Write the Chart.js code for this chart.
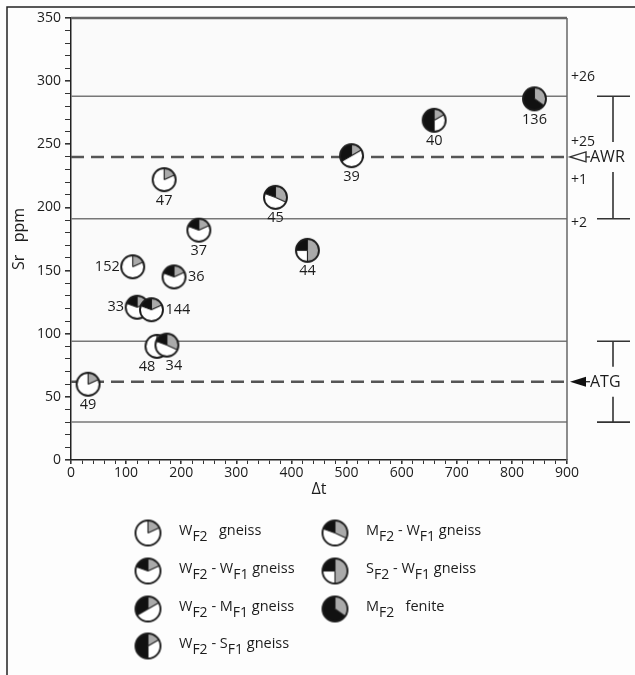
<!DOCTYPE html>
<html>
<head>
<meta charset="utf-8">
<script src="https://cdn.jsdelivr.net/npm/chart.js@4.4.0/dist/chart.umd.min.js"></script>
<style>
  html, body { margin: 0; padding: 0; background: #fff; }
  #wrap { position: relative; width: 635px; height: 675px; }
</style>
</head>
<body>
<div id="wrap"><canvas id="c" width="635" height="675"></canvas></div>
<script>
// ===== Data =====
const sampleIds = ['49', '48', '34', '33', '144', '152', '36', '37', '47', '45', '44', '39', '40', '136'];
const deltaT    = [31, 156, 174, 120, 146, 112, 187, 232, 169, 371, 429, 509, 659, 841];
const srPpm     = [60, 90, 91, 121, 119, 153, 145, 182, 222, 208, 166, 241, 269, 286];
const rockType  = ['wg', 'wg', 'mw', 'ww', 'ww', 'wg', 'ww', 'ww', 'wg', 'mw', 'sw', 'wm', 'ws', 'mf'];

const solidLevels  = [288, 191, 94, 30];
const dashedLevels = [240, 62];
const markerNames  = ['AWR', 'ATG'];
const markerLevels = [240, 62];
const rangeHigh    = [288, 94];
const rangeLow     = [191, 30];
const offsetLabels = ['+26', '+25', '+1', '+2'];
const offsetLevels = [303, 252, 222, 188];

const legendKeys = ['wg', 'ww', 'wm', 'ws', 'mw', 'sw', 'mf'];
const legendLabels = [
  [['W', 0], ['F2', 1], ['   gneiss', 0]],
  [['W', 0], ['F2', 1], [' - W', 0], ['F1', 1], [' gneiss', 0]],
  [['W', 0], ['F2', 1], [' - M', 0], ['F1', 1], [' gneiss', 0]],
  [['W', 0], ['F2', 1], [' - S', 0], ['F1', 1], [' gneiss', 0]],
  [['M', 0], ['F2', 1], [' - W', 0], ['F1', 1], [' gneiss', 0]],
  [['S', 0], ['F2', 1], [' - W', 0], ['F1', 1], [' gneiss', 0]],
  [['M', 0], ['F2', 1], ['   fenite', 0]]
];

// ===== Styles =====
const FONT = '"Open Sans", "DejaVu Sans", sans-serif';
const INK = '#1c1c1c';
const FILL = { w: '#ffffff', g: '#aaaaaa', k: '#111111' };
// sectors: [startDeg, endDeg, fill], clockwise from 12 o'clock
const PIE = {
  wg: [[0, 65, 'g'], [65, 360, 'w']],
  ww: [[0, 65, 'g'], [65, 290, 'w'], [290, 360, 'k']],
  wm: [[0, 60, 'g'], [60, 240, 'w'], [240, 360, 'k']],
  ws: [[0, 60, 'g'], [60, 180, 'w'], [180, 360, 'k']],
  mw: [[0, 115, 'g'], [115, 290, 'w'], [290, 360, 'k']],
  sw: [[0, 180, 'g'], [180, 270, 'w'], [270, 360, 'k']],
  mf: [[0, 125, 'g'], [125, 360, 'k']]
};
// where each sample number sits: b = below, l = left, r = right; plus a small x nudge
const labelPlace = ['b', 'b', 'b', 'l', 'r', 'l', 'r', 'b', 'b', 'b', 'b', 'b', 'b', 'b'];
const labelNudge = [0, -10, 7, 0, 0, 0, 0, 0, 0, 0, 0, 0, 0, 0];

function makePie(key, r) {
  const c = document.createElement('canvas');
  const s = Math.ceil(r * 2 + 4);
  c.width = c.height = s;
  const g = c.getContext('2d');
  const cx = s / 2, cy = s / 2;
  const rad = d => (d - 90) * Math.PI / 180;
  PIE[key].forEach(([a0, a1, col]) => {
    g.beginPath();
    g.moveTo(cx, cy);
    g.arc(cx, cy, r, rad(a0), rad(a1));
    g.closePath();
    g.fillStyle = FILL[col];
    g.fill();
  });
  g.strokeStyle = INK;
  g.lineWidth = 1.1;
  PIE[key].forEach(([a0]) => {
    g.beginPath();
    g.moveTo(cx, cy);
    g.lineTo(cx + r * Math.cos(rad(a0)), cy + r * Math.sin(rad(a0)));
    g.stroke();
  });
  g.beginPath();
  g.arc(cx, cy, r, 0, Math.PI * 2);
  g.lineWidth = 1.9;
  g.stroke();
  return c;
}

const pointIcons = {}, legendIcons = {};
Object.keys(PIE).forEach(k => {
  pointIcons[k] = makePie(k, 11.5);
  legendIcons[k] = makePie(k, 12.5);
});

// ===== Plugins =====
const framePlugin = {
  id: 'frame',
  beforeDraw(chart) {
    const { ctx, chartArea: a } = chart;
    ctx.save();
    ctx.fillStyle = '#fdfdfd';
    ctx.fillRect(0, 0, chart.width, chart.height);
    ctx.fillStyle = '#fafafa';
    ctx.fillRect(a.left, a.top, a.right - a.left, a.bottom - a.top);
    ctx.restore();
  },
  afterDraw(chart) {
    const { ctx, chartArea: a } = chart;
    ctx.save();
    ctx.strokeStyle = '#222';
    ctx.lineWidth = 1.5;
    ctx.beginPath();
    ctx.moveTo(7, 675); ctx.lineTo(7, 7); ctx.lineTo(635, 7);
    ctx.stroke();
    ctx.strokeStyle = '#666';
    ctx.lineWidth = 2.5;
    ctx.beginPath();
    ctx.moveTo(a.left, a.top); ctx.lineTo(a.right, a.top);
    ctx.stroke();
    ctx.lineWidth = 1.5;
    ctx.beginPath();
    ctx.moveTo(a.right, a.top); ctx.lineTo(a.right, a.bottom);
    ctx.stroke();
    ctx.restore();
  }
};

const sampleLabels = {
  id: 'sampleLabels',
  afterDatasetsDraw(chart) {
    const { ctx } = chart;
    const meta = chart.getDatasetMeta(0);
    ctx.save();
    ctx.font = '14.5px ' + FONT;
    ctx.fillStyle = INK;
    ctx.textBaseline = 'middle';
    meta.data.forEach((pt, i) => {
      const p = labelPlace[i], dx = labelNudge[i];
      if (p === 'b') { ctx.textAlign = 'center'; ctx.fillText(sampleIds[i], pt.x + dx, pt.y + 21); }
      else if (p === 'l') { ctx.textAlign = 'right'; ctx.fillText(sampleIds[i], pt.x - 13 + dx, pt.y); }
      else { ctx.textAlign = 'left'; ctx.fillText(sampleIds[i], pt.x + 14 + dx, pt.y); }
    });
    ctx.restore();
  }
};

const sideNotes = {
  id: 'sideNotes',
  afterDraw(chart) {
    const { ctx, chartArea: a } = chart;
    const y = chart.scales.y;
    ctx.save();
    ctx.fillStyle = INK;
    ctx.font = '14px ' + FONT;
    ctx.textBaseline = 'middle';
    ctx.textAlign = 'left';
    offsetLabels.forEach((t, i) => ctx.fillText(t, a.right + 4, y.getPixelForValue(offsetLevels[i])));

    const barX = a.right + 46;
    markerNames.forEach((name, i) => {
      const my = y.getPixelForValue(markerLevels[i]);
      const top = y.getPixelForValue(rangeHigh[i]);
      const bot = y.getPixelForValue(rangeLow[i]);
      // range bar with a gap for the label
      ctx.strokeStyle = '#333';
      ctx.lineWidth = 1.6;
      ctx.beginPath();
      ctx.moveTo(barX - 16, top); ctx.lineTo(barX + 17, top);
      ctx.moveTo(barX, top); ctx.lineTo(barX, my - 15);
      ctx.moveTo(barX, my + 15); ctx.lineTo(barX, bot);
      ctx.moveTo(barX - 16, bot); ctx.lineTo(barX + 17, bot);
      ctx.stroke();
      // arrow head pointing at the plot
      const tip = a.right + 3;
      ctx.beginPath();
      ctx.moveTo(tip, my);
      ctx.lineTo(tip + 16, my - 5);
      ctx.lineTo(tip + 16, my + 5);
      ctx.closePath();
      ctx.lineWidth = 1.4;
      if (i === 0) { ctx.fillStyle = '#fff'; ctx.fill(); ctx.stroke(); }
      else { ctx.fillStyle = '#111'; ctx.fill(); }
      ctx.beginPath();
      ctx.moveTo(tip + 16, my); ctx.lineTo(tip + 20, my);
      ctx.stroke();
      ctx.fillStyle = INK;
      ctx.font = '16px ' + FONT;
      ctx.fillText(name, tip + 20, my + 1);
    });
    ctx.restore();
  }
};

const pieLegend = {
  id: 'pieLegend',
  afterDraw(chart) {
    const { ctx } = chart;
    const cols = [148, 335], rows = [533, 571, 609, 646];
    ctx.save();
    ctx.fillStyle = INK;
    ctx.textBaseline = 'middle';
    ctx.textAlign = 'left';
    legendKeys.forEach((k, i) => {
      const cx = i < 4 ? cols[0] : cols[1];
      const cy = rows[i < 4 ? i : i - 4];
      const ic = legendIcons[k];
      ctx.drawImage(ic, cx - ic.width / 2, cy - ic.height / 2);
      let x = cx + 31;
      legendLabels[i].forEach(([t, sub]) => {
        ctx.font = (sub ? '14px ' : '14.5px ') + FONT;
        ctx.fillText(t, x, sub ? cy + 4 : cy - 2);
        x += ctx.measureText(t).width;
      });
    });
    ctx.restore();
  }
};

// ===== Chart =====
const lineSet = (v, dashed) => ({
  type: 'line',
  data: [{ x: 0, y: v }, { x: 900, y: v }],
  borderColor: dashed ? '#555' : '#777',
  borderWidth: dashed ? 2.5 : 1.5,
  borderDash: dashed ? [13, 7] : [],
  pointRadius: 0,
  order: 2
});

new Chart(document.getElementById('c').getContext('2d'), {
  type: 'scatter',
  data: {
    datasets: [
      {
        data: deltaT.map((x, i) => ({ x, y: srPpm[i] })),
        pointStyle: rockType.map(k => pointIcons[k]),
        pointRadius: 12,
        order: 0
      },
      ...solidLevels.map(v => lineSet(v, false)),
      ...dashedLevels.map(v => lineSet(v, true))
    ]
  },
  options: {
    responsive: false,
    animation: false,
    events: [],
    layout: { padding: { top: 18, right: 68, left: 0, bottom: 175 } },
    plugins: { legend: { display: false }, tooltip: { enabled: false } },
    scales: {
      x: {
        type: 'linear', min: 0, max: 900,
        afterFit: s => { s.height = 40; },
        ticks: {
          stepSize: 20, autoSkip: false, maxRotation: 0, padding: 1,
          color: INK, font: { family: FONT, size: 14 },
          callback: v => (v % 100 === 0 ? v : '')
        },
        grid: {
          drawOnChartArea: false, tickLength: 4, color: '#333',
          lineWidth: c => (c.tick && c.tick.value % 100 === 0 ? 1.6 : 1)
        },
        border: { color: '#222', width: 1.5 },
        title: { display: true, text: 'Δt', color: INK, font: { family: FONT, size: 16 }, padding: { top: 0, bottom: 1 } }
      },
      y: {
        type: 'linear', min: 0, max: 350,
        afterFit: s => { s.width = 71; },
        ticks: {
          stepSize: 10, autoSkip: false, padding: 4,
          color: INK, font: { family: FONT, size: 14 },
          callback: v => (v % 50 === 0 ? v : '')
        },
        grid: {
          drawOnChartArea: false, tickLength: 6, color: '#333',
          lineWidth: c => (c.tick && c.tick.value % 50 === 0 ? 1.6 : 1)
        },
        border: { color: '#222', width: 1.5 },
        title: { display: true, text: 'Sr   ppm', color: INK, font: { family: FONT, size: 16 }, padding: { top: 10, bottom: 0 } }
      }
    }
  },
  plugins: [framePlugin, sampleLabels, sideNotes, pieLegend]
});
</script>
</body>
</html>
